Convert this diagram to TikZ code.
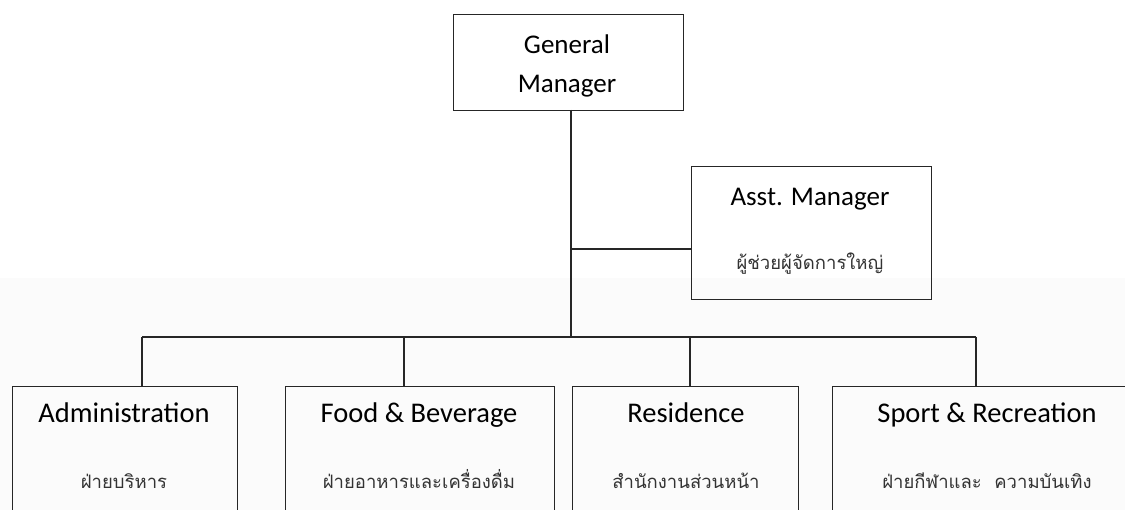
\documentclass[tikz,border=0pt]{standalone}
\usepackage{fontspec}
\setmainfont{Carlito}
\newfontfamily\thaifont[Script=Thai]{Loma}
\begin{document}
\begin{tikzpicture}[x=1pt,y=-1pt,
  box/.style={draw=black!85, line width=1.2pt, inner sep=0pt, anchor=north west},
  conn/.style={draw=black!85, line width=1.2pt},
  en/.style={font=\fontsize{27}{32}\selectfont, inner sep=0pt, anchor=base},
  enb/.style={font=\fontsize{28.5}{34}\selectfont, inner sep=0pt, anchor=base},
  th/.style={font=\thaifont\fontsize{18.5}{24}\selectfont, inner sep=0pt, anchor=base, text=black!80}]
\useasboundingbox (0,0) rectangle (1125,510);
\clip (0,0) rectangle (1125,510);
\fill[white] (0,0) rectangle (1125,510);
\fill[black!1.5] (0,278) rectangle (1125,510);
% boxes
\node[box, minimum width=230pt, minimum height=96pt] (gm) at (453,14) {};
\node[box, minimum width=240pt, minimum height=133pt] (asst) at (691,166) {};
\node[box, minimum width=225pt, minimum height=150pt] (adm) at (12,386) {};
\node[box, minimum width=269pt, minimum height=150pt] (fb) at (285,386) {};
\node[box, minimum width=226pt, minimum height=150pt] (res) at (572,386) {};
\node[box, minimum width=300pt, minimum height=150pt] (spo) at (832,386) {};
% texts
\node[en] (t1) at (567,54) {General};
\node[en] (t2) at (567,93) {Manager};
\node[en] (t3) at (810,206) {Asst. Manager};
\node[th] (t4) at (810,270) {ผู้ช่วยผู้จัดการใหญ่};
\node[enb] (t5) at (124,423) {Administration};
\node[th] (t6) at (124,489) {ฝ่ายบริหาร};
\node[enb] (t7) at (419,423) {Food \& Beverage};
\node[th] (t8) at (419,489) {ฝ่ายอาหารและเครื่องดื่ม};
\node[enb] (t9) at (686,423) {Residence};
\node[th] (t10) at (686,489) {สำนักงานส่วนหน้า};
\node[enb] (t11) at (987,423) {Sport \& Recreation};
\node[th] (t12) at (987,489) {ฝ่ายกีฬาและ\ \ ความบันเทิง};
% connectors
\coordinate (top) at (571,110);
\coordinate (ac) at (571,249);
\coordinate (hub) at (571,337);
\coordinate (d1) at (142,337);
\coordinate (d2) at (404,337);
\coordinate (d3) at (690,337);
\coordinate (d4) at (976,337);
\draw[conn] (top) -- (hub);
\draw[conn] (ac) -- (ac -| asst.west);
\draw[conn] (d1) -- (d4);
\draw[conn] (d1) -- (d1 |- adm.north);
\draw[conn] (d2) -- (d2 |- fb.north);
\draw[conn] (d3) -- (d3 |- res.north);
\draw[conn] (d4) -- (d4 |- spo.north);
\end{tikzpicture}
\end{document}
